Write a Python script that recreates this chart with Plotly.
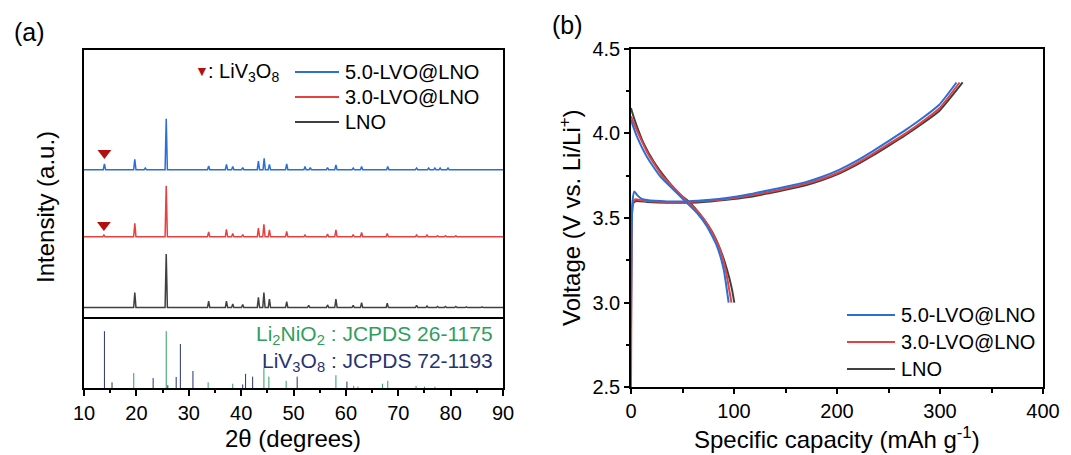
import plotly.graph_objects as go

# ---------------- data ----------------
samples = ["5.0-LVO@LNO", "3.0-LVO@LNO", "LNO"]
colors = ["#2a6fd8", "#e8403f", "#404040"]

# XRD peaks (2theta, relative intensity)
xrd_pos_50 = [13.9, 19.7, 21.7, 25.7, 33.8, 37.2, 38.4, 40.3, 43.3, 44.4, 45.4, 48.7, 52.2, 53.2, 56.5, 58.1, 61.4, 63.0, 68.0, 73.5, 75.8, 77.0, 78.0, 79.5]
xrd_int_50 = [11, 19.5, 3, 95, 7, 10, 6, 4, 16, 21, 10, 11, 6, 4, 4, 9, 3, 6, 6, 3, 3, 3, 3, 3]
xrd_pos_30 = [13.8, 19.7, 25.7, 33.8, 37.2, 38.4, 40.3, 43.3, 44.35, 45.4, 48.7, 52.2, 56.5, 58.1, 61.4, 63.0, 67.9, 73.5, 75.5, 77.5, 79.0, 81.0]
xrd_int_30 = [3, 25, 95, 9, 14, 6, 4, 16, 23, 13, 10, 3, 5, 13, 4, 8, 6, 3, 3, 2, 2, 2]
xrd_pos_lno = [19.7, 25.7, 33.8, 37.2, 38.4, 40.3, 43.3, 44.35, 45.4, 48.7, 52.9, 56.5, 58.1, 61.4, 63.0, 67.9, 73.5, 75.5, 77.5, 79.0, 81.0, 83.0, 86.0]
xrd_int_lno = [28, 100, 12, 12, 7, 6, 19, 28, 16, 11, 4, 5, 16, 4, 9, 8, 4, 3, 2, 2, 2, 1.5, 1.5]
xrd_offsets = [257, 132, 0]
lvo_marker_x = [13.9, 13.8]
lvo_marker_y = [288, 154]

# reference sticks
li2nio2_pos = [19.5, 25.7, 33.7, 38.4, 44.35, 45.3, 48.6, 58.1, 61.5, 62.3, 67.0, 68.0, 73.4, 75.0, 77.0]
li2nio2_int = [21, 80, 8, 6, 28, 16, 10, 18, 3, 2, 6, 10, 3, 2, 2]
liv3o8_pos = [13.9, 15.35, 23.2, 26.0, 27.6, 28.4, 30.8, 40.3, 40.85, 42.2, 50.7, 60.2]
liv3o8_int = [80, 8, 14, 4, 15.5, 62, 24, 5, 20, 16, 16, 9]

# charge / discharge curves (capacity mAh/g, voltage V)
chg_cap_50 = [0, 0.6, 1.5, 3.2, 6, 10, 15.5, 35, 54.4, 77, 93, 112.6, 135, 150, 169.6, 185, 202, 218, 234, 250, 266.7, 283, 299, 316]
chg_v_50 = [2.85, 3.4, 3.6, 3.657, 3.635, 3.615, 3.606, 3.598, 3.598, 3.607, 3.618, 3.637, 3.665, 3.684, 3.712, 3.742, 3.784, 3.834, 3.892, 3.954, 4.02, 4.09, 4.167, 4.3]
dis_cap_50 = [0, 5.8, 15.5, 28.5, 41.4, 52.7, 64, 73.8, 83.5, 90, 94.8]
dis_v_50 = [4.078, 3.98, 3.86, 3.745, 3.667, 3.598, 3.53, 3.45, 3.333, 3.196, 3.0]

chg_cap_30 = [0, 0.5, 1.5, 4, 10, 15.5, 35, 54.4, 77, 93, 112.6, 135, 150, 169.6, 185, 202, 218, 234, 250, 266.7, 283, 299, 319]
chg_v_30 = [2.5, 3.2, 3.58, 3.61, 3.605, 3.6, 3.594, 3.594, 3.603, 3.612, 3.63, 3.655, 3.674, 3.702, 3.73, 3.77, 3.82, 3.876, 3.936, 4.0, 4.07, 4.145, 4.3]
dis_cap_30 = [0, 7, 17.3, 30.3, 43.2, 54.5, 65.8, 75.6, 85.3, 91.8, 97.5]
dis_v_30 = [4.10, 4.0, 3.87, 3.75, 3.668, 3.598, 3.53, 3.45, 3.333, 3.196, 3.0]

chg_cap_lno = [0, 0.8, 2, 5, 15.5, 35, 54.4, 77, 93, 112.6, 135, 150, 169.6, 185, 202, 218, 234, 250, 266.7, 283, 299, 322]
chg_v_lno = [3.0, 3.5, 3.585, 3.6, 3.595, 3.59, 3.59, 3.598, 3.607, 3.622, 3.648, 3.666, 3.693, 3.722, 3.762, 3.81, 3.866, 3.926, 3.99, 4.058, 4.13, 4.3]
dis_cap_lno = [0, 1, 5.8, 12.3, 22, 35, 47.9, 56, 67.3, 78.6, 86.7, 93.2, 98, 100.3]
dis_v_lno = [4.15, 4.127, 4.04, 3.94, 3.833, 3.725, 3.637, 3.598, 3.52, 3.42, 3.314, 3.196, 3.08, 3.0]

# ---------------- helpers ----------------
# the page places the figure 8 px from the top-left corner of the window
OFF = 8
W, H = 1071 - OFF, 455 - OFF
def px(x):
    return (x - OFF) / W
def py(y):
    return 1 - (y - OFF) / H

FONT = "Liberation Sans, Arial, Helvetica, sans-serif"
LINE_W = 1.6

def pattern(pos, inten, off, w=0.22):
    xs, ys = [10.0], [off]
    for p, h in sorted(zip(pos, inten)):
        xs += [p - w, p, p + w]
        ys += [off, off + h, off]
    xs.append(90.0)
    ys.append(off)
    return xs, ys

def sticks(pos, inten):
    xs, ys = [], []
    for p, h in zip(pos, inten):
        xs += [p, p, None]
        ys += [0, h, None]
    return xs, ys

fig = go.Figure()

# ---- panel (a) upper: XRD patterns ----
xrd_pos = [xrd_pos_50, xrd_pos_30, xrd_pos_lno]
xrd_int = [xrd_int_50, xrd_int_30, xrd_int_lno]
for i in [2, 1, 0]:
    xs, ys = pattern(xrd_pos[i], xrd_int[i], xrd_offsets[i])
    fig.add_trace(go.Scatter(x=xs, y=ys, mode="lines", line=dict(color=colors[i], width=1.5),
                             xaxis="x2", yaxis="y2", showlegend=False, name=samples[i]))
fig.add_trace(go.Scatter(x=lvo_marker_x, y=lvo_marker_y, mode="markers",
                         marker=dict(symbol="triangle-down", size=12, color="#b30f0f"),
                         xaxis="x2", yaxis="y2", showlegend=False))

# ---- panel (a) lower: reference sticks ----
xs, ys = sticks(li2nio2_pos, li2nio2_int)
fig.add_trace(go.Scatter(x=xs, y=ys, mode="lines", line=dict(color="#2f9e5e", width=1),
                         xaxis="x", yaxis="y", showlegend=False))
xs, ys = sticks(liv3o8_pos, liv3o8_int)
fig.add_trace(go.Scatter(x=xs, y=ys, mode="lines", line=dict(color="#27336f", width=1),
                         xaxis="x", yaxis="y", showlegend=False))

# ---- panel (b) ----
chg_cap = [chg_cap_50, chg_cap_30, chg_cap_lno]
chg_v = [chg_v_50, chg_v_30, chg_v_lno]
dis_cap = [dis_cap_50, dis_cap_30, dis_cap_lno]
dis_v = [dis_v_50, dis_v_30, dis_v_lno]
for i in [2, 1, 0]:
    fig.add_trace(go.Scatter(x=chg_cap[i] + [None] + dis_cap[i], y=chg_v[i] + [None] + dis_v[i],
                             mode="lines", line=dict(color=colors[i], width=2, shape="spline", smoothing=0.5),
                             xaxis="x3", yaxis="y3", showlegend=False, name=samples[i]))

# ---------------- layout ----------------
xa = [px(84), px(503)]
ya_top, ya_mid, ya_bot = py(50), py(317), py(388)
xb = [px(631), px(1043)]
yb = [py(387.4), py(48.6)]

axis_common = dict(showline=True, linecolor="black", linewidth=LINE_W,
                   showgrid=False, zeroline=False, tickfont=dict(size=20, color="black"),
                   tickcolor="black", tickwidth=1.5, automargin=False)

fig.update_layout(
    width=W, height=H, margin=dict(l=0, r=0, t=0, b=0, autoexpand=False),
    paper_bgcolor="white", plot_bgcolor="white",
    font=dict(family=FONT, color="black"),
    xaxis=dict(domain=xa, range=[10, 90], anchor="y", ticks="outside", ticklen=6, mirror=False,
               tick0=10, dtick=10, minor=dict(dtick=5, ticks="outside", ticklen=3.5, tickcolor="black", tickwidth=1.5),
               **axis_common),
    yaxis=dict(domain=[ya_bot, ya_mid], range=[0, 100], anchor="x", ticks="", showticklabels=False,
               mirror=True, **axis_common),
    xaxis2=dict(domain=xa, range=[10, 90], anchor="y2", ticks="", showticklabels=False,
                matches="x", mirror=True, **axis_common),
    yaxis2=dict(domain=[ya_mid, ya_top], range=[-17.5, 480], anchor="x2", ticks="",
                showticklabels=False, mirror=True, **axis_common),
    xaxis3=dict(domain=xb, range=[0, 400], anchor="y3", ticks="outside", ticklen=5, mirror=True,
                tick0=0, dtick=100, minor=dict(dtick=50, ticks="outside", ticklen=3.5, tickcolor="black", tickwidth=1.5),
                **axis_common),
    yaxis3=dict(domain=yb, range=[2.5, 4.5], anchor="x3", ticks="outside", ticklen=5, mirror=True,
                tick0=2.5, dtick=0.5, tickformat=".1f",
                minor=dict(dtick=0.25, ticks="outside", ticklen=3.5, tickcolor="black", tickwidth=1.5),
                **axis_common),
)

ann = []
shapes = []
def text(x, y, s, size=20, color="black", xanchor="center", angle=0):
    ann.append(dict(x=px(x), y=py(y), xref="paper", yref="paper", text=s, showarrow=False,
                    xanchor=xanchor, yanchor="middle", textangle=angle,
                    font=dict(size=size, color=color, family=FONT)))

text(12, 32, "(a)", 25, xanchor="left")
text(550, 25, "(b)", 25, xanchor="left")
text(45, 207, "Intensity (a.u.)", 24, angle=-90)
text(293, 438, "2θ (degrees)", 24)
text(570, 218, "Voltage (V vs. Li/Li<sup>+</sup>)", 24, angle=-90)
text(837, 438, "Specific capacity (mAh g<sup>-1</sup>)", 24)

# reference labels
text(495, 335, "Li<sub>2</sub>NiO<sub>2</sub> : JCPDS 26-1175", 21, color="#2f9e5e", xanchor="right")
text(495, 362, "LiV<sub>3</sub>O<sub>8</sub> : JCPDS 72-1193", 21, color="#27336f", xanchor="right")

# legend (a)
text(201.5, 71, "▼", 14, color="#b30f0f")
text(206, 73, ": LiV<sub>3</sub>O<sub>8</sub>", 20, xanchor="left")
for i, yy in enumerate([72, 97, 122]):
    shapes.append(dict(type="line", xref="paper", yref="paper", x0=px(295), x1=px(339), y0=py(yy), y1=py(yy),
                       line=dict(color=colors[i], width=2)))
    text(343, yy, samples[i], 20, xanchor="left")

# legend (b)
for i, yy in enumerate([315, 342, 369]):
    shapes.append(dict(type="line", xref="paper", yref="paper", x0=px(847), x1=px(895), y0=py(yy), y1=py(yy),
                       line=dict(color=colors[i], width=2)))
    text(899, yy, samples[i], 20, xanchor="left")

fig.update_layout(annotations=ann, shapes=shapes)
fig.write_html("out.html")
